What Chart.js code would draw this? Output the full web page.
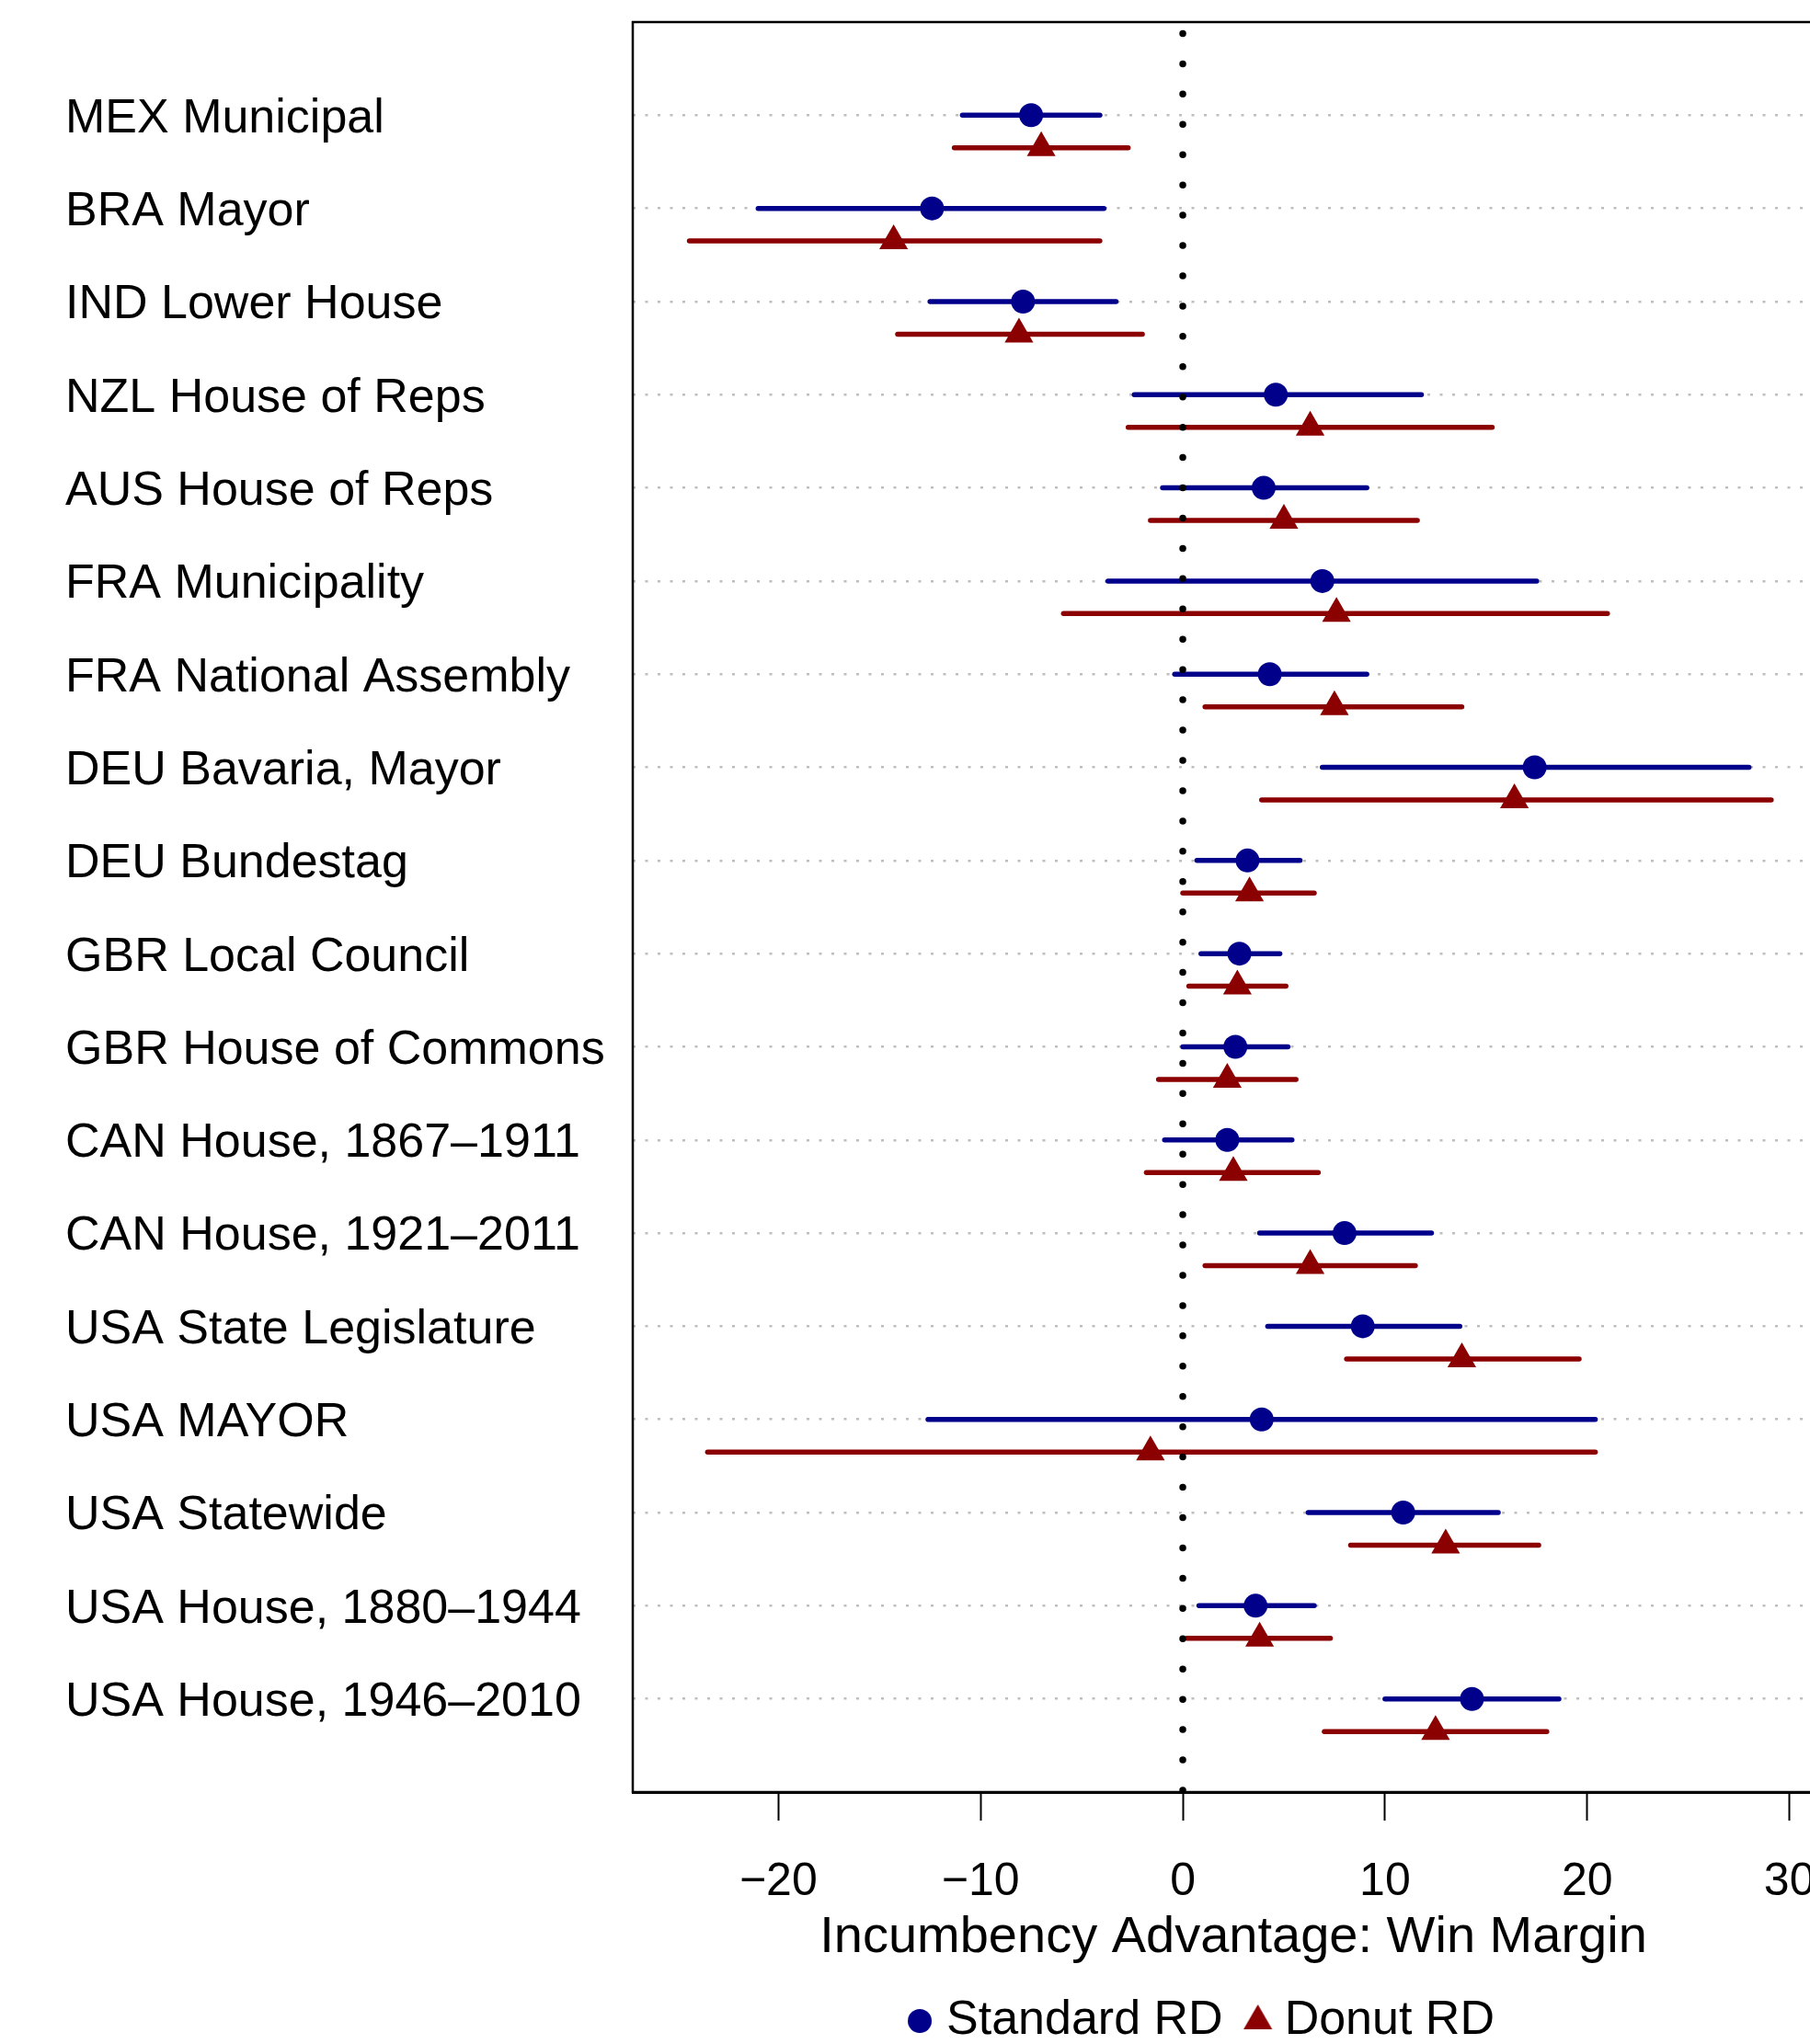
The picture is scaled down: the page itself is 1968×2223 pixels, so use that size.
<!DOCTYPE html>
<html>
<head>
<meta charset="utf-8">
<script src="https://cdn.jsdelivr.net/npm/chart.js@4.4.0/dist/chart.umd.min.js"></script>
<style>
html, body { margin: 0; padding: 0; background: #fff; overflow: hidden; }
#wrap { width: 2000px; height: 2223px; }
</style>
</head>
<body>
<div id="wrap"><canvas id="myChart" width="2000" height="2223"></canvas></div>
<script>
// rows, top to bottom
const rowLabels = [
  'MEX Municipal', 'BRA Mayor', 'IND Lower House', 'NZL House of Reps',
  'AUS House of Reps', 'FRA Municipality', 'FRA National Assembly',
  'DEU Bavaria, Mayor', 'DEU Bundestag', 'GBR Local Council',
  'GBR House of Commons', 'CAN House, 1867\u20131911', 'CAN House, 1921\u20132011',
  'USA State Legislature', 'USA MAYOR', 'USA Statewide',
  'USA House, 1880\u20131944', 'USA House, 1946\u20132010'
]
// standard RD: estimate and interval
const stdEst = [-7.5, -12.4, -7.9, 4.6, 4.0, 6.9, 4.3, 17.4, 3.2, 2.8, 2.6, 2.2, 8.0, 8.9, 3.9, 10.9, 3.6, 14.3]
const stdLo  = [-10.9, -21.0, -12.5, -2.4, -1.0, -3.7, -0.4, 6.9, 0.7, 0.9, 0.0, -0.9, 3.8, 4.2, -12.6, 6.2, 0.8, 10.0]
const stdHi  = [-4.1, -3.9, -3.3, 11.8, 9.1, 17.5, 9.1, 28.0, 5.8, 4.8, 5.2, 5.4, 12.3, 13.7, 20.4, 15.6, 6.5, 18.6]
// donut RD: estimate and interval
const donEst = [-7.0, -14.3, -8.1, 6.3, 5.0, 7.6, 7.5, 16.4, 3.3, 2.7, 2.2, 2.5, 6.3, 13.8, -1.6, 13.0, 3.8, 12.5]
const donLo  = [-11.3, -24.4, -14.1, -2.7, -1.6, -5.9, 1.1, 3.9, 0.0, 0.3, -1.2, -1.8, 1.1, 8.1, -23.5, 8.3, 0.2, 7.0]
const donHi  = [-2.7, -4.1, -2.0, 15.3, 11.6, 21.0, 13.8, 29.1, 6.5, 5.1, 5.6, 6.7, 11.5, 19.6, 20.4, 17.6, 7.3, 18.0]

const xTicks = [-20, -10, 0, 10, 20, 30]
const xTitle = 'Incumbency Advantage: Win Margin'
const seriesNames = ['Standard RD', 'Donut RD']

const BLUE = '#00008B'
const RED = '#8B0000'
const donutShift = 0.35

Chart.defaults.font.family = "'Liberation Sans', Arial, sans-serif"
Chart.defaults.color = '#000'

// legend icons
function makeIcon(kind) {
  const c = document.createElement('canvas')
  const g = c.getContext('2d')
  if (kind === 'circle') {
    c.width = 28; c.height = 28
    g.fillStyle = BLUE
    g.beginPath(); g.arc(14, 14, 13, 0, Math.PI * 2); g.fill()
  } else {
    c.width = 36; c.height = 36
    g.fillStyle = RED
    let r = 18, rad = 0
    g.beginPath()
    g.moveTo(18 + Math.sin(rad) * r, 18 - Math.cos(rad) * r)
    rad += Math.PI * 2 / 3
    g.lineTo(18 + Math.sin(rad) * r, 18 - Math.cos(rad) * r)
    rad += Math.PI * 2 / 3
    g.lineTo(18 + Math.sin(rad) * r, 18 - Math.cos(rad) * r)
    g.closePath(); g.fill()
  }
  return c
}
const icons = [makeIcon('circle'), makeIcon('triangle')]

const datasets = [
  {
    label: seriesNames[0],
    data: stdEst.map((v, i) => ({x: v, y: i + 1})),
    pointStyle: 'circle', pointRadius: 13, pointHoverRadius: 13,
    backgroundColor: BLUE, borderColor: BLUE, borderWidth: 0
  },
  {
    label: seriesNames[1],
    data: donEst.map((v, i) => ({x: v, y: i + 1 + donutShift})),
    pointStyle: 'triangle', pointRadius: 18, pointHoverRadius: 18,
    backgroundColor: RED, borderColor: RED, borderWidth: 0
  },
  {
    label: 'zero',
    data: [{x: 0, y: 0}, {x: 0, y: rowLabels.length + 1}],
    showLine: true, pointRadius: 0, pointHoverRadius: 0,
    borderColor: '#000', borderWidth: 7.5,
    borderDash: [0, 32.94], borderDashOffset: 20.5, borderCapStyle: 'round'
  }
]
rowLabels.forEach((name, i) => {
  datasets.push({
    label: 'std-' + i,
    data: [{x: stdLo[i], y: i + 1}, {x: stdHi[i], y: i + 1}],
    showLine: true, pointRadius: 0, pointHoverRadius: 0,
    borderColor: BLUE, borderWidth: 5.5, borderCapStyle: 'round'
  })
  datasets.push({
    label: 'don-' + i,
    data: [{x: donLo[i], y: i + 1 + donutShift}, {x: donHi[i], y: i + 1 + donutShift}],
    showLine: true, pointRadius: 0, pointHoverRadius: 0,
    borderColor: RED, borderWidth: 5.5, borderCapStyle: 'round'
  })
})

// frame around the plot region
const boxPlugin = {
  id: 'box',
  beforeDatasetsDraw(chart) {
    const {ctx, chartArea: a} = chart
    ctx.save()
    ctx.strokeStyle = '#000'
    ctx.lineWidth = 2.5
    ctx.strokeRect(a.left, a.top, a.right - a.left, a.bottom - a.top)
    ctx.restore()
  }
}
// nudge legend a bit left, like the original
const legendShift = {
  id: 'legendShift',
  afterLayout(chart) {
    chart.legend.left -= 30
    chart.legend.right -= 30
  }
}

const ctx = document.getElementById('myChart')
const chart1 = new Chart(ctx, {
  type: 'scatter',
  data: { datasets: datasets },
  plugins: [boxPlugin, legendShift],
  options: {
    responsive: false,
    animation: false,
    events: [],
    layout: { autoPadding: false, padding: { left: 71, top: 24, right: 6, bottom: 0 } },
    scales: {
      x: {
        type: 'linear', min: -27.2, max: 32.2,
        afterBuildTicks: (s) => { s.ticks = xTicks.map(v => ({value: v})) },
        afterFit: (s) => { s.height = 188; s.paddingLeft = 0; s.paddingRight = 0 },
        ticks: {
          callback: (v) => v < 0 ? '\u2212' + Math.abs(v) : String(v),
          font: { size: 50 }, color: '#000', padding: 37,
          maxRotation: 0, autoSkip: false
        },
        grid: { drawOnChartArea: false, drawTicks: true, tickLength: 31, tickWidth: 2, tickColor: '#000', color: '#000' },
        border: { display: true, color: '#000', width: 3 },
        title: { display: true, text: xTitle, font: { size: 56, lineHeight: 1.05 }, color: '#000', padding: 0 }
      },
      y: {
        type: 'linear', min: 0, max: rowLabels.length + 1, reverse: true,
        afterBuildTicks: (s) => { s.ticks = rowLabels.map((_, i) => ({value: i + 1})) },
        afterFit: (s) => { s.width = 617; s.paddingTop = 0; s.paddingBottom = 0 },
        ticks: {
          callback: (v) => rowLabels[v - 1],
          crossAlign: 'far', font: { size: 52 }, color: '#000', padding: 0,
          labelOffset: 4, autoSkip: false
        },
        grid: { drawTicks: false, color: '#bebebe', lineWidth: 2.5 },
        border: { display: false, dash: [3, 10.5] }
      }
    },
    plugins: {
      tooltip: { enabled: false },
      legend: {
        position: 'bottom',
        fullSize: false,
        maxHeight: 86,
        labels: {
          usePointStyle: true,
          boxWidth: 6,
          padding: 35,
          color: '#000',
          font: { size: 52 },
          generateLabels: (chart) => Chart.defaults.plugins.legend.labels.generateLabels(chart)
            .filter(l => l.datasetIndex < 2)
            .map(l => Object.assign(l, { pointStyle: icons[l.datasetIndex] }))
        }
      }
    }
  }
});
</script>
</body>
</html>
